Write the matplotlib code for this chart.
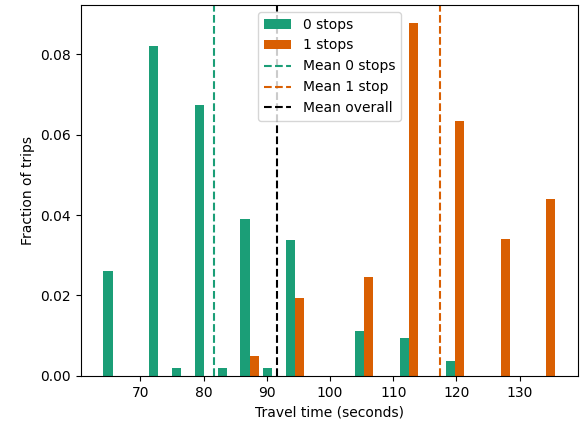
"""Travel time distribution by number of stops."""
import matplotlib

matplotlib.use("Agg")
import matplotlib.pyplot as plt
import numpy as np

# ---- data ----
TIME_MIN = 63.8
TIME_MAX = 136.0
N_BINS = 20

# fraction of trips per bin (density), one value per bin
frac_0_stops = [0.0261, 0.0, 0.0820, 0.0019, 0.0673, 0.0019, 0.0391, 0.0019,
                0.0337, 0.0, 0.0, 0.0112, 0.0, 0.0094, 0.0, 0.0037,
                0.0, 0.0, 0.0, 0.0]
frac_1_stops = [0.0, 0.0, 0.0, 0.0, 0.0, 0.0, 0.0049, 0.0,
                0.0194, 0.0, 0.0, 0.0245, 0.0, 0.0878, 0.0, 0.0633,
                0.0, 0.0341, 0.0, 0.0439]

mean_0_stops = 81.7
mean_1_stop = 117.4
mean_overall = 91.6

labels = ["0 stops", "1 stops"]
colors = ["#1b9e77", "#d95f02"]


def main() -> None:
    edges = np.linspace(TIME_MIN, TIME_MAX, N_BINS + 1)
    centers = (edges[:-1] + edges[1:]) / 2

    fig = plt.figure(figsize=(5.82, 4.21), dpi=100)
    ax = fig.add_axes([0.139, 0.107, 0.854, 0.881])

    ax.hist([centers, centers], bins=edges,
            weights=[frac_0_stops, frac_1_stops],
            color=colors, label=labels)

    ax.axvline(mean_0_stops, color=colors[0], linestyle="--", label="Mean 0 stops")
    ax.axvline(mean_1_stop, color=colors[1], linestyle="--", label="Mean 1 stop")
    ax.axvline(mean_overall, color="black", linestyle="--", label="Mean overall")

    ax.set_xlabel("Travel time (seconds)")
    ax.set_ylabel("Fraction of trips")
    ax.legend(loc="upper center")

    fig.savefig("out.png", dpi=100)
    plt.close(fig)


if __name__ == "__main__":
    main()
